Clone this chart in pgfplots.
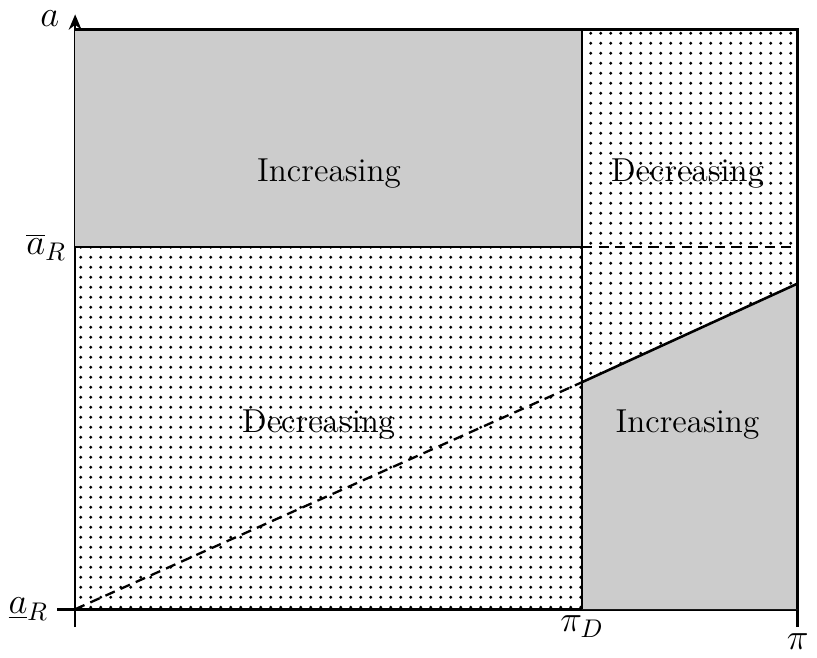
\documentclass[border=0pt]{standalone}
\usepackage{pgfplots}
\pgfplotsset{compat=1.18}
\usetikzlibrary{patterns,arrows.meta}
\definecolor{regiongray}{RGB}{204,204,204}
\pgfdeclarepatternformonly{bigdots}{\pgfqpoint{-2pt}{-2pt}}{\pgfqpoint{2pt}{2pt}}{\pgfqpoint{4pt}{4pt}}{%
  \pgfpathcircle{\pgfqpoint{0pt}{0pt}}{0.65pt}\pgfusepath{fill}}
\begin{document}
\begin{tikzpicture}
\begin{axis}[
  scale only axis, width=283pt, height=227pt,
  xmin=0, xmax=754, ymin=0, ymax=605,
  axis x line=bottom, axis y line=left,
  x axis line style={-, line width=1pt},
  y axis line style={-{Stealth[length=6pt,width=5pt]}, line width=1pt, shorten >=-6pt},
  xtick={0,754}, xticklabels={,$\pi$},
  extra x ticks={529}, extra x tick labels={$\pi_D$},
  extra x tick style={major tick length=0pt},
  ytick={0}, yticklabels={$\underline{a}_R$},
  extra y ticks={378}, extra y tick labels={$\overline{a}_R$},
  extra y tick style={major tick length=0pt},
  tick style={black, line width=1pt}, tick align=outside, major tick length=7pt,
  font=\fontsize{13}{15}\selectfont,
  tick label style={font=\fontsize{14}{16}\selectfont},
  xticklabel style={yshift=1pt},
  ylabel={$a$}, ylabel style={rotate=-90, at={(axis description cs:-0.035,1.02)}, anchor=center, inner sep=4pt, font=\fontsize{15}{17}\selectfont},
  clip=false,
]
% regions
\addplot[fill=regiongray, draw=none] coordinates {(0,378) (529,378) (529,605) (0,605)} -- cycle;
\addplot[pattern=bigdots, draw=none] coordinates {(529,237) (754,340) (754,605) (529,605)} -- cycle;
\addplot[pattern=bigdots, draw=none] coordinates {(0,0) (529,0) (529,378) (0,378)} -- cycle;
\addplot[fill=regiongray, draw=none] coordinates {(529,0) (754,0) (754,340) (529,237)} -- cycle;
% boundaries
\addplot[black, line width=0.9pt, dash pattern=on 4pt off 2.5pt] coordinates {(0,0) (529,237)};
\addplot[black, line width=0.9pt, dash pattern=on 4pt off 2.5pt] coordinates {(529,378) (754,378)};
\addplot[black, line width=1pt] coordinates {(529,237) (754,340)};
\addplot[black, line width=1pt] coordinates {(529,0) (529,605)};
\addplot[black, line width=1pt] coordinates {(0,378) (529,378)};
\addplot[black, line width=1pt] coordinates {(0,605) (754,605) (754,0)};
% labels
\node at (axis cs:265,455) {Increasing};
\node at (axis cs:639,455) {Decreasing};
\node at (axis cs:254,193) {Decreasing};
\node at (axis cs:639,193) {Increasing};
\end{axis}
\end{tikzpicture}
\end{document}
